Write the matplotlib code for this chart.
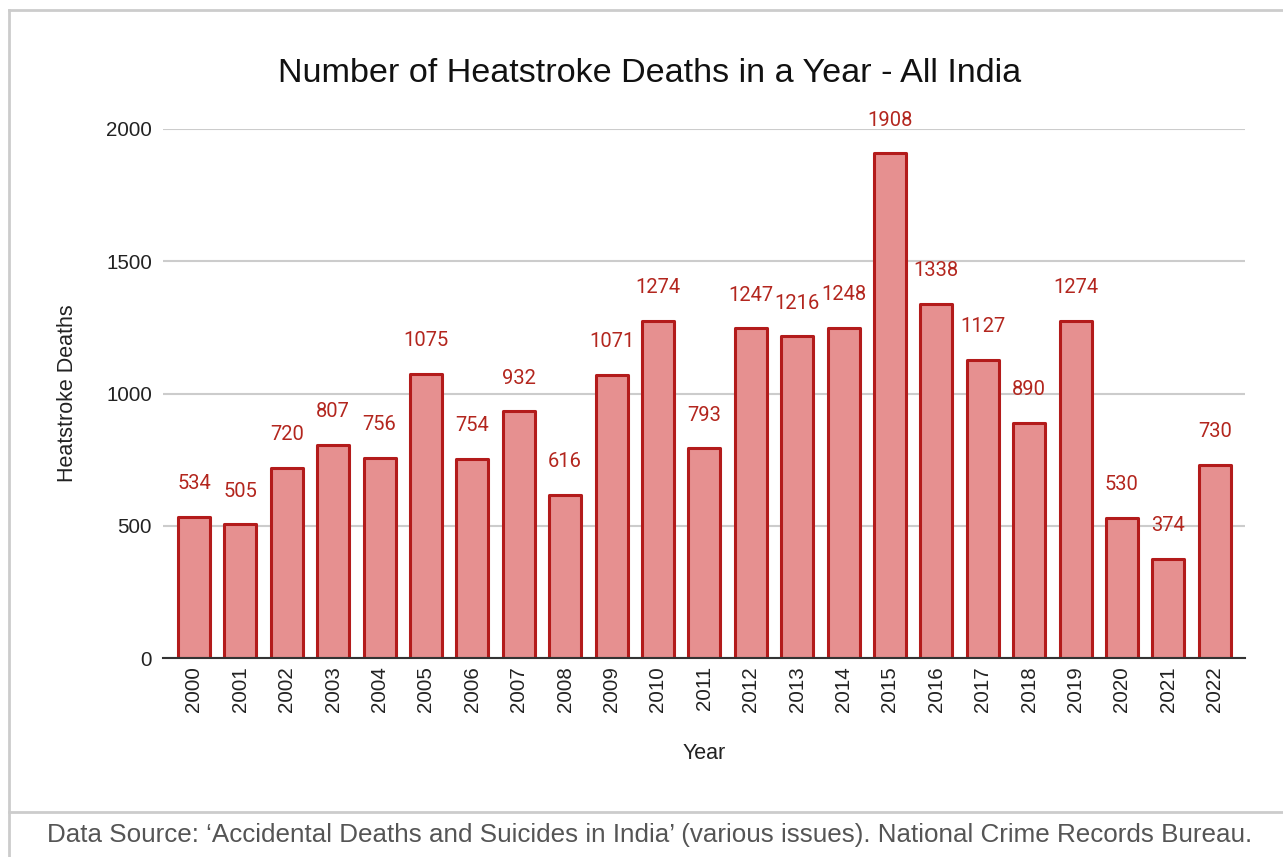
import matplotlib
matplotlib.use('Agg')
import matplotlib.pyplot as plt
from matplotlib.lines import Line2D

years = [str(y) for y in range(2000, 2023)]
deaths = [534, 505, 720, 807, 756, 1075, 754, 932, 616, 1071, 1274, 793,
          1247, 1216, 1248, 1908, 1338, 1127, 890, 1274, 530, 374, 730]
yticks = [0, 500, 1000, 1500, 2000]

plt.rcParams['font.family'] = ['Liberation Sans', 'DejaVu Sans']

W, H = 1283, 857
fig = plt.figure(figsize=(W / 100, H / 100), dpi=100)
ax = fig.add_axes([163 / W, 1 - 658 / H, 1082 / W, 529 / H])

x = range(len(years))
ax.bar(x, deaths, width=0.69, color='#e69090', edgecolor='#b31b1b',
       linewidth=2.2, joinstyle='round', zorder=3)

# value labels above each bar
for i, v in zip(x, deaths):
    ax.annotate(str(v), (i, v), xytext=(0, 17), textcoords='offset points',
                ha='center', va='bottom', fontsize=14.5, color='#b3261e',
                family='Roboto')

# the gridlines run a bit past the outer bars, as in the original
ax.set_xlim(-0.668, len(years) - 1 + 0.652)
ax.set_ylim(0, 2000)
ax.set_yticks(yticks)
ax.set_xticks(list(x))
ax.set_xticklabels(years, rotation=90)
ax.tick_params(axis='both', length=0, labelsize=14.8, colors='#222222')
ax.tick_params(axis='y', pad=8)
ax.tick_params(axis='x', pad=6)
ax.grid(axis='y', color='#cccccc', linewidth=1.5, zorder=0)
for s in ['top', 'right', 'left']:
    ax.spines[s].set_visible(False)
ax.spines['bottom'].set_color('#333333')
ax.spines['bottom'].set_linewidth(1.5)
ax.spines['bottom'].set_zorder(4)

ax.set_ylabel('Heatstroke Deaths', fontsize=15.5, color='#222222', labelpad=20)
ax.set_xlabel('Year', fontsize=15.5, color='#222222', labelpad=22)

fig.text(650 / W, 1 - 74 / H, 'Number of Heatstroke Deaths in a Year - All India',
         ha='center', va='center', fontsize=24.6, color='#111111')

fig.text(650 / W, 1 - 835 / H,
         'Data Source: \u2018Accidental Deaths and Suicides in India\u2019 (various issues). '
         'National Crime Records Bureau.',
         ha='center', va='center', fontsize=18.7, color='#555555')

# frame lines around the chart
bc = '#cccccc'
x0 = 8.5 / W
yt = 1 - 10 / H
yc = 1 - 812 / H
fig.add_artist(Line2D([x0, 1], [yt, yt], color=bc, lw=2))
fig.add_artist(Line2D([x0, x0], [0, yt], color=bc, lw=2))
fig.add_artist(Line2D([x0, 1], [yc, yc], color=bc, lw=2))

fig.savefig('out.png', dpi=100)
